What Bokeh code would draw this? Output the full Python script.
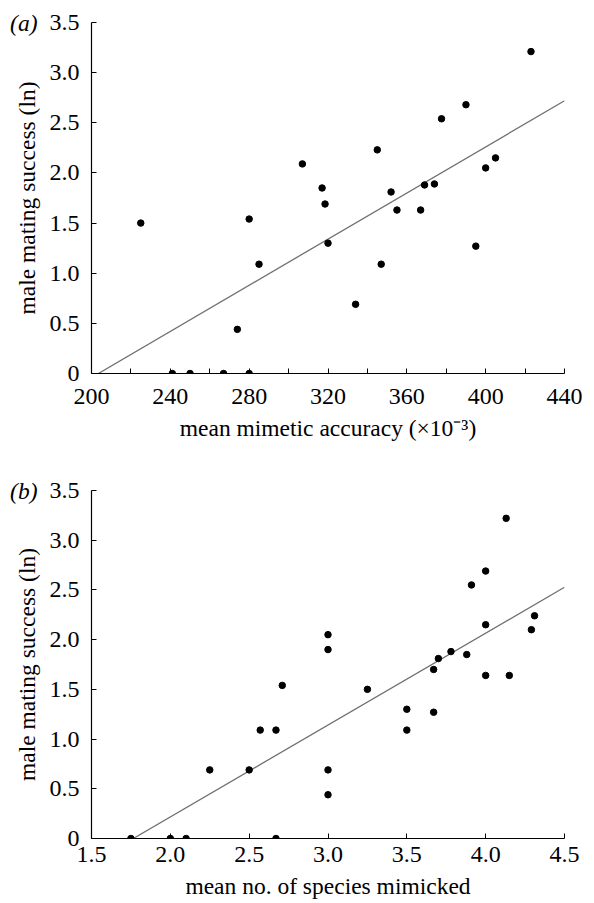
from bokeh.plotting import figure
from bokeh.layouts import column
from bokeh.models import Range1d, FixedTicker, LinearAxis
from bokeh.embed import file_html
from bokeh.resources import INLINE

# ---------- data: panel (a) ----------
acc_x = [225, 241, 250, 267, 280, 274, 280, 285, 307, 317, 318.5, 320, 334, 345,
         347, 352, 355, 367, 369, 374, 377.6, 390, 395, 400, 405, 423]
acc_y = [1.50, 0, 0, 0, 0, 0.44, 1.54, 1.09, 2.09, 1.85, 1.69, 1.30, 0.69, 2.23,
         1.09, 1.81, 1.63, 1.63, 1.88, 1.89, 2.54, 2.68, 1.27, 2.05, 2.15, 3.21]
fit_a_x0 = 203.5      # x where fitted line crosses y = 0
fit_a_slope = 0.0115

# ---------- data: panel (b) ----------
spp_x = [1.75, 2.0, 2.1, 2.67, 2.25, 2.5, 2.57, 2.67, 2.71, 3.0, 3.0, 3.0, 3.0,
         3.25, 3.5, 3.5, 3.67, 3.67, 3.70, 3.78, 3.88, 3.91, 4.0, 4.0, 4.0, 4.15,
         4.13, 4.31, 4.29]
spp_y = [0, 0, 0, 0, 0.69, 0.69, 1.09, 1.09, 1.54, 2.05, 1.90, 0.69, 0.44,
         1.50, 1.30, 1.09, 1.70, 1.27, 1.81, 1.88, 1.85, 2.55, 2.69, 2.15, 1.64, 1.64,
         3.22, 2.24, 2.10]
fit_b_x0 = 1.765
fit_b_slope = 0.924

# ---------- ticks / labels ----------
y_ticks = [0, 0.5, 1.0, 1.5, 2.0, 2.5, 3.0, 3.5]
y_tick_labels = ["0", "0.5", "1.0", "1.5", "2.0", "2.5", "3.0", "3.5"]
xa_ticks = [200, 240, 280, 320, 360, 400, 440]
xa_minor = [220, 260, 300, 340, 380, 420]
xb_ticks = [1.5, 2.0, 2.5, 3.0, 3.5, 4.0, 4.5]
xb_tick_labels = ["1.5", "2.0", "2.5", "3.0", "3.5", "4.0", "4.5"]
panel_tags = ["(a)", "(b)"]
tag_at = 3.5

FONT = "Liberation Serif"
FS = "23.5px"
FS_TICK = "24px"


def style(p, xlabel, xticks, xminor, xlabels, x_std, xl_std, tag):
    p.outline_line_color = None
    p.grid.visible = False
    p.background_fill_color = "white"
    p.border_fill_color = "white"
    for ax in (p.xaxis[0], p.yaxis[0]):
        ax.axis_line_color = "black"
        ax.axis_line_width = 1.2
        ax.major_tick_line_color = "black"
        ax.major_tick_in = 5
        ax.major_tick_out = 0
        ax.minor_tick_line_color = "black"
        ax.minor_tick_in = 5
        ax.minor_tick_out = 0
        ax.major_label_text_font = FONT
        ax.major_label_text_font_size = FS_TICK
        ax.major_label_text_color = "black"
        ax.axis_label_text_font = FONT
        ax.axis_label_text_font_size = FS
        ax.axis_label_text_font_style = "normal"
        ax.axis_label_text_color = "black"
    xa = p.xaxis[0]
    xa.ticker = FixedTicker(ticks=xticks, minor_ticks=xminor)
    xa.axis_label = xlabel
    xa.major_label_standoff = x_std
    xa.axis_label_standoff = xl_std
    if xlabels is not None:
        xa.major_label_overrides = {t: l for t, l in zip(xticks, xlabels)}
    ya = p.yaxis[0]
    ya.ticker = FixedTicker(ticks=y_ticks)
    ya.major_label_overrides = {t: l for t, l in zip(y_ticks, y_tick_labels)}
    ya.axis_label = "male mating success (ln)"
    ya.major_label_standoff = 12
    ya.axis_label_standoff = 7
    # panel tag "(a)"/"(b)" drawn as the only label of a bare outer axis
    tag_axis = LinearAxis(ticker=FixedTicker(ticks=[tag_at], minor_ticks=[]),
                          major_label_overrides={tag_at: tag},
                          axis_line_color=None, major_tick_line_color=None,
                          minor_tick_line_color=None,
                          major_label_standoff=-33,
                          major_label_text_font=FONT, major_label_text_font_size=FS,
                          major_label_text_font_style="italic",
                          major_label_text_color="black")
    p.add_layout(tag_axis, "left")


# ---------- panel (a) ----------
pa = figure(width=586, height=450, x_range=Range1d(200, 440), y_range=Range1d(0, 3.5),
            output_backend="svg", toolbar_location=None,
            min_border_left=91, min_border_right=22, min_border_top=22, min_border_bottom=77)
style(pa, "mean mimetic accuracy (\u00d710\u207b\u00b3)", xa_ticks, xa_minor, None, 15, 8,
      panel_tags[0])
xa_end = pa.x_range.end
pa.line([fit_a_x0, xa_end], [0, fit_a_slope * (xa_end - fit_a_x0)],
        line_color="#707070", line_width=1.3)
pa.scatter(acc_x, acc_y, size=6.5, color="black")

# ---------- panel (b) ----------
pb = figure(width=586, height=452, x_range=Range1d(1.5, 4.5), y_range=Range1d(0, 3.5),
            output_backend="svg", toolbar_location=None,
            min_border_left=91, min_border_right=19, min_border_top=40, min_border_bottom=64)
style(pb, "mean no. of species mimicked", xb_ticks, [], xb_tick_labels, 8, 8,
      panel_tags[1])
xb_end = pb.x_range.end
pb.line([fit_b_x0, xb_end], [0, fit_b_slope * (xb_end - fit_b_x0)],
        line_color="#707070", line_width=1.3)
pb.scatter(spp_x, spp_y, size=6.5, color="black")

layout = column(pa, pb, spacing=0)
open("out.html", "w").write(file_html(layout, INLINE))
